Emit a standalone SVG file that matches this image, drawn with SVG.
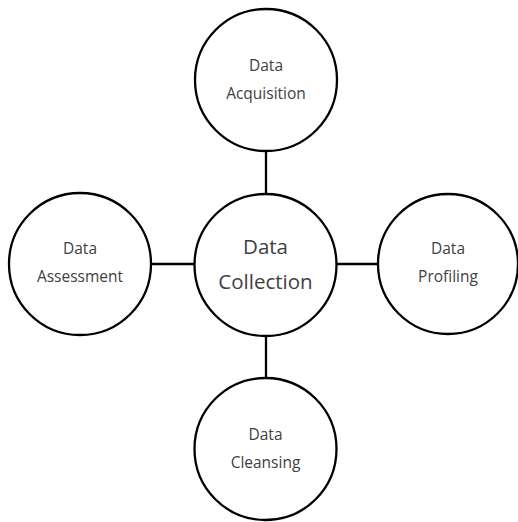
<svg xmlns="http://www.w3.org/2000/svg" width="518" height="522" viewBox="0 0 518 522">
<style>
.node circle{fill:#fff;stroke:#000;stroke-width:2.3}
.conn line{stroke:#000;stroke-width:2.3}
text{font-family:"Open Sans","Noto Sans",sans-serif;fill:#404040;text-anchor:middle}
.s{font-size:15.5px}
.c{font-size:20.5px}
</style>
<rect width="518" height="522" fill="#fff"/>
<g id="connectors" class="conn">
<line x1="266" y1="151" x2="266" y2="194"/>
<line x1="151" y1="264" x2="195" y2="264"/>
<line x1="336" y1="264" x2="378" y2="264"/>
<line x1="266" y1="336" x2="266" y2="378"/>
</g>
<g id="collection" class="node">
<circle cx="265.5" cy="265" r="71"/>
<text class="c" x="265.5" y="254">Data</text>
<text class="c" x="265.5" y="289">Collection</text>
</g>
<g id="acquisition" class="node">
<circle cx="266" cy="80" r="71"/>
<text class="s" x="266" y="71">Data</text>
<text class="s" x="266" y="99">Acquisition</text>
</g>
<g id="assessment" class="node">
<circle cx="80" cy="264" r="71"/>
<text class="s" x="80" y="254">Data</text>
<text class="s" x="80" y="282">Assessment</text>
</g>
<g id="profiling" class="node">
<circle cx="448" cy="264" r="70"/>
<text class="s" x="448" y="254">Data</text>
<text class="s" x="448" y="282">Profiling</text>
</g>
<g id="cleansing" class="node">
<circle cx="265.5" cy="449" r="71"/>
<text class="s" x="265.5" y="440">Data</text>
<text class="s" x="265.5" y="468">Cleansing</text>
</g>
</svg>
